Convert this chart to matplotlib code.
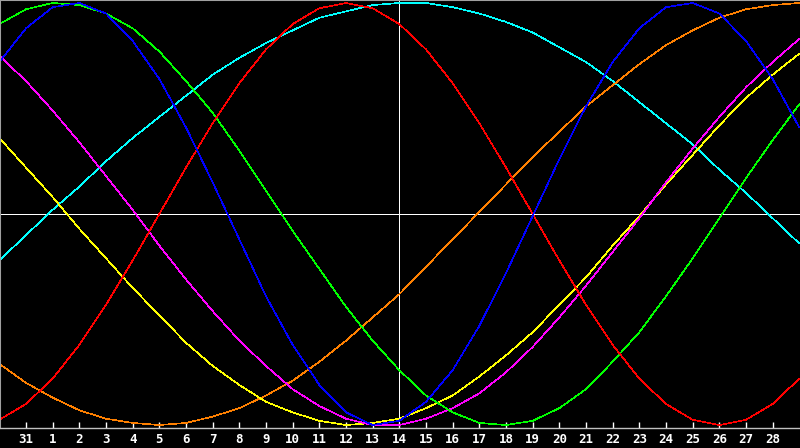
import numpy as np
import matplotlib
matplotlib.use("Agg")
import matplotlib.pyplot as plt

# -------------------------------
# 1. Data (-1 .. 1)
# -------------------------------
days = [30, 31, 1, 2, 3, 4, 5, 6, 7, 8, 9, 10, 11, 12, 13, 14, 15,
        16, 17, 18, 19, 20, 21, 22, 23, 24, 25, 26, 27, 28, 29]
today = 14

physical = [0.72, 0.88, 0.98, 1.00, 0.95, 0.82, 0.64, 0.41, 0.15, -0.12, -0.39,
            -0.62, -0.81, -0.94, -1.00, -0.98, -0.89, -0.74, -0.53, -0.28, -0.01,
            0.26, 0.51, 0.72, 0.88, 0.98, 1.00, 0.95, 0.82, 0.64, 0.41]
emotional = [-0.975, -0.90, -0.78, -0.62, -0.43, -0.22, 0.00, 0.22, 0.43, 0.62, 0.78,
             0.90, 0.975, 1.00, 0.975, 0.90, 0.78, 0.62, 0.43, 0.22, 0.00,
             -0.22, -0.43, -0.62, -0.78, -0.90, -0.975, -1.00, -0.975, -0.90, -0.78]
intellectual = [0.90, 0.97, 1.00, 0.99, 0.95, 0.88, 0.77, 0.63, 0.48, 0.30, 0.11,
                -0.08, -0.26, -0.44, -0.60, -0.74, -0.86, -0.94, -0.99, -1.00, -0.98,
                -0.92, -0.83, -0.70, -0.56, -0.39, -0.21, -0.02, 0.17, 0.35, 0.52]
intuitive = [0.75, 0.63, 0.49, 0.34, 0.18, 0.02, -0.15, -0.31, -0.46, -0.60, -0.72,
             -0.83, -0.91, -0.97, -1.00, -1.00, -0.97, -0.92, -0.85, -0.75, -0.63,
             -0.49, -0.34, -0.18, -0.02, 0.15, 0.31, 0.46, 0.60, 0.72, 0.83]
aesthetic = [0.36, 0.22, 0.08, -0.07, -0.21, -0.35, -0.48, -0.61, -0.72, -0.81, -0.89,
             -0.94, -0.98, -1.00, -0.99, -0.97, -0.92, -0.86, -0.77, -0.67, -0.56,
             -0.43, -0.30, -0.15, -0.01, 0.14, 0.28, 0.42, 0.55, 0.66, 0.76]
awareness = [-0.71, -0.80, -0.87, -0.93, -0.97, -0.99, -1.00, -0.99, -0.96, -0.92, -0.86,
             -0.79, -0.70, -0.60, -0.49, -0.38, -0.25, -0.12, 0.01, 0.14, 0.27,
             0.39, 0.51, 0.61, 0.71, 0.80, 0.87, 0.93, 0.97, 0.99, 1.00]
spiritual = [-0.22, -0.10, 0.02, 0.13, 0.25, 0.36, 0.46, 0.56, 0.66, 0.74, 0.81,
             0.87, 0.93, 0.96, 0.99, 1.00, 1.00, 0.98, 0.95, 0.91, 0.86,
             0.79, 0.72, 0.63, 0.53, 0.43, 0.33, 0.21, 0.10, -0.02, -0.14]

series = [
    (spiritual, "#00ffff"),
    (awareness, "#ff8000"),
    (aesthetic, "#ffff00"),
    (intuitive, "#ff00ff"),
    (intellectual, "#00ff00"),
    (emotional, "#ff0000"),
    (physical, "#0000ff"),
]

# -------------------------------
# 2. Plot
# -------------------------------
x = np.arange(len(days)) - 1

fig = plt.figure(figsize=(8, 4.48), dpi=100, facecolor="black")
ax = fig.add_axes([0, 20 / 448, 1, 428 / 448])
ax.set_facecolor("black")

ax.axhline(0, color="white", lw=0.72, antialiased=False, zorder=1)
ax.axvline(days.index(today) - 1, color="white", lw=0.72, antialiased=False, zorder=1)

for values, color in series:
    ax.plot(x, values, color=color, lw=0.45, antialiased=False, zorder=2)

ax.set_xlim(-0.975, 29.025)
ax.set_ylim(-1.014, 1.014)

ax.set_xticks(x[1:30])
ax.set_xticklabels([str(d) for d in days[1:30]], fontweight="bold",
                   family="DejaVu Sans Mono")
ax.tick_params(axis="x", direction="in", length=4, width=1,
               colors="white", pad=3.5, labelsize=9)
ax.set_yticks([])

ax.spines["right"].set_visible(False)
ax.spines["top"].set_color("#a0a0a0")
ax.spines["top"].set_linewidth(1.5)
ax.spines["left"].set_color("#a0a0a0")
ax.spines["left"].set_linewidth(1.5)
ax.spines["bottom"].set_color("#c0c0c0")
ax.spines["bottom"].set_linewidth(1.0)

fig.savefig("out.png", dpi=100, facecolor="black")
plt.close()
